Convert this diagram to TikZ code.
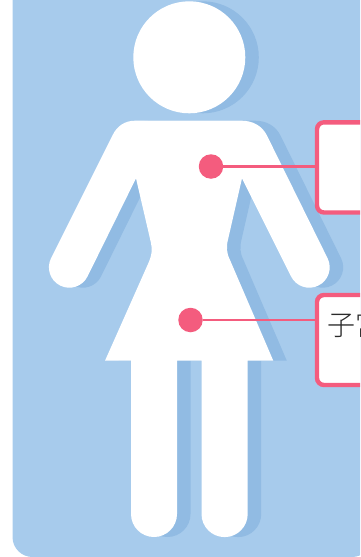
\documentclass[tikz,border=0pt]{standalone}
\usepackage{fontspec}
\newfontfamily\cjk{Noto Sans CJK JP Light}
\definecolor{panel}{HTML}{A7CBEC}
\definecolor{shade}{HTML}{91BBE3}
\definecolor{accent}{HTML}{F45C7E}
\definecolor{ink}{HTML}{2A2A2A}
\newcommand{\figurepath}{
  (189.3,57.3) circle (56)
  (131,355) -- (177,355) -- (177,514) arc (0:180:23) -- cycle
  (201.5,355) -- (247.7,355) -- (247.7,514) arc (0:180:23.1) -- cycle
  (135,120.7) -- (241.7,120.7) .. controls (253,120.7) and (262,126) .. (266.7,135)
  -- (327.55,258.2) arc (-26.5:153.5:20.4) -- (242,178.3) -- (228.3,238.3)
  .. controls (226,247) and (226.5,253) .. (230,260) -- (273.3,360.7) -- (105,360.7)
  -- (148.3,263.3) .. controls (152,255) and (152.5,249) .. (150.7,241.7) -- (136,178.3)
  -- (87.55,276.4) arc (26.5:206.5:20.4) -- (112.7,135) .. controls (117,126) and (125,120.7) .. (135,120.7)
}
\tikzset{
  x=1pt,y=-1pt,
  bodyshade/.style={fill=shade,draw=none,shift={(13.5,0)}},
  bodywhite/.style={fill=white,draw=none},
  calloutbox/.style={draw=accent,line width=4.4pt,fill=white,rounded corners=7pt,minimum width=70pt,anchor=north west,inner sep=0pt,outer sep=0pt},
  spot/.style={circle,fill=accent,draw=none,minimum size=24.5pt,inner sep=0pt},
  leader/.style={draw=accent,line width=2.6pt},
  boxtext/.style={font=\cjk\fontsize{28}{32}\selectfont,text=ink,anchor=base west,inner sep=0pt}
}
\begin{document}
\begin{tikzpicture}
\useasboundingbox (0,0) rectangle (360,557);
\clip (0,0) rectangle (360,557);
\fill[panel,rounded corners=20pt] (12.5,-30) rectangle (372,557);
\fill[bodyshade] \figurepath;
\fill[bodywhite] \figurepath;
\node[calloutbox,minimum height=90.2pt] (box1) at (317,122.3) {};
\node[calloutbox,minimum height=90pt] (box2) at (317,295) {};
\node[spot] (dot1) at (211,166.5) {};
\node[spot] (dot2) at (190.5,320) {};
\draw[leader] (dot1) -- (dot1 -| box1.west);
\draw[leader] (dot2) -- (dot2 -| box2.west);
\node[boxtext] (label) at (327,335) {子宮};
\end{tikzpicture}
\end{document}
